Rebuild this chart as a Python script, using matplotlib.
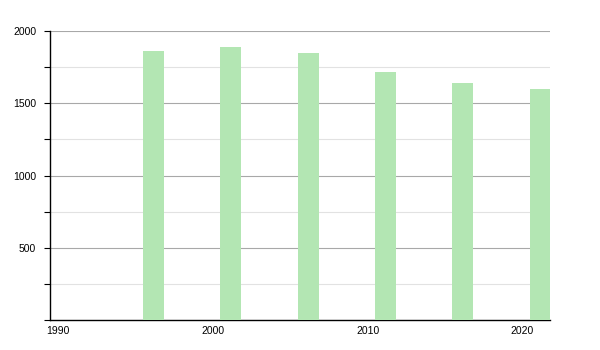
import matplotlib
matplotlib.use("Agg")
import matplotlib.pyplot as plt
import matplotlib.transforms as mtrans
from matplotlib.ticker import MultipleLocator

years = [1996, 2001, 2006, 2011, 2016, 2021]
population = [1861, 1891, 1848, 1718, 1638, 1597]
x_ticks = [1990, 2000, 2010, 2020]
y_ticks = [500, 1000, 1500, 2000]

plt.rcParams['font.family'] = ['Liberation Sans', 'DejaVu Sans']

fig = plt.figure(figsize=(6, 3.5), dpi=100)
ax = fig.add_axes([50 / 600, 30 / 350, 500 / 600, 289 / 350])

ax.bar(years, population, width=1.35, align='edge', color='#b3e6b3', zorder=3)

ax.set_xlim(1990, 2022.3)
ax.set_ylim(0, 2000)

ax.set_xticks(x_ticks)
ax.set_xticklabels([str(y) for y in x_ticks], fontsize=7.5)
ax.set_yticks(y_ticks)
ax.set_yticklabels([str(v) for v in y_ticks], fontsize=7.5)
ax.yaxis.set_minor_locator(MultipleLocator(250))

ax.grid(axis='y', which='major', color='#a8a8a8', linewidth=0.8, zorder=0)
ax.grid(axis='y', which='minor', color='#e2e2e2', linewidth=0.8, zorder=0)

ax.tick_params(axis='x', length=0, pad=4)
ax.tick_params(axis='y', which='both', length=4, width=0.8, direction='out', pad=6)
for lab in ax.get_xticklabels():
    lab.set_transform(lab.get_transform() + mtrans.ScaledTranslation(8 / 100, 0, fig.dpi_scale_trans))

for s in ['top', 'right']:
    ax.spines[s].set_visible(False)
ax.spines['left'].set_linewidth(1.0)
ax.spines['bottom'].set_linewidth(1.0)

fig.savefig('out.png', dpi=100)
